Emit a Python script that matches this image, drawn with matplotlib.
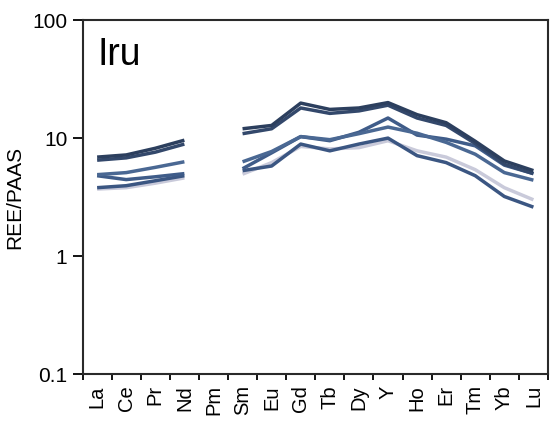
import numpy as np
import matplotlib.pyplot as plt
from matplotlib.ticker import FixedLocator, NullLocator

plt.rcParams['font.family'] = ['Liberation Sans', 'DejaVu Sans']

# REE elements (normalised to PAAS), Pm has no data
elements = ["La", "Ce", "Pr", "Nd", "Pm", "Sm", "Eu", "Gd", "Tb", "Dy",
            "Y", "Ho", "Er", "Tm", "Yb", "Lu"]
nan = np.nan

sample_a = [6.9, 7.2, 8.2, 9.6, nan, 12.0, 12.8, 19.8, 17.5, 18.0, 20.0, 15.8, 13.5, 9.4, 6.4, 5.3]
sample_b = [6.5, 6.8, 7.6, 8.9, nan, 10.9, 12.0, 18.0, 16.2, 17.0, 19.0, 14.8, 12.8, 9.0, 6.0, 5.0]
sample_c = [4.9, 5.1, 5.65, 6.3, nan, 6.3, 7.7, 10.3, 9.7, 10.9, 12.4, 11.0, 9.2, 7.3, 5.1, 4.4]
sample_d = [4.8, 4.45, 4.7, 5.0, nan, 5.5, 7.5, 10.3, 9.5, 11.2, 14.8, 10.6, 9.8, 8.6, 5.9, 5.0]
sample_e = [3.8, 3.95, 4.35, 4.8, nan, 5.3, 5.8, 8.9, 7.8, 8.9, 10.0, 7.1, 6.2, 4.8, 3.2, 2.6]
sample_f = [3.7, 3.8, 4.15, 4.6, nan, 4.95, 6.2, 8.5, 8.1, 8.3, 9.5, 7.8, 6.9, 5.4, 3.8, 3.0]

samples = [sample_f, sample_e, sample_d, sample_c, sample_b, sample_a]
colors = ["#c9cada", "#3b5682", "#3f5c89", "#4a6893", "#33486b", "#2c3f5e"]

fig = plt.figure(figsize=(5.58, 4.28), dpi=100)
ax = fig.add_axes([0.148, 0.126, 0.834, 0.827])

x = np.arange(len(elements))
for vals, col in zip(samples, colors):
    ax.plot(x, vals, color=col, lw=2.5, solid_capstyle="butt")

ax.set_yscale("log")
ax.set_ylim(0.1, 100)
ax.set_xlim(-0.5, len(elements) - 0.5)
ax.yaxis.set_major_locator(FixedLocator([0.1, 1, 10, 100]))
ax.yaxis.set_minor_locator(NullLocator())
ax.set_yticklabels(["0.1", "1", "10", "100"])

# labels at centres, tick marks at category boundaries
ax.set_xticks(x)
ax.set_xticklabels(elements, rotation=90)
ax.xaxis.set_minor_locator(FixedLocator(np.arange(-0.5, len(elements), 1.0)))
ax.tick_params(axis="x", which="major", length=0, pad=8, labelsize=14.5)
ax.tick_params(axis="x", which="minor", length=4, width=1.3, direction="out")
ax.tick_params(axis="y", which="major", length=7, width=1.3, direction="out",
               labelsize=15, pad=4)

for sp in ax.spines.values():
    sp.set_linewidth(1.5)
    sp.set_color("#2a2a2a")

ax.set_ylabel("REE/PAAS", fontsize=15, labelpad=6)
ax.text(0.031, 0.873, "Iru", transform=ax.transAxes, fontsize=27, va="baseline")

fig.savefig("out.png", dpi=100)
